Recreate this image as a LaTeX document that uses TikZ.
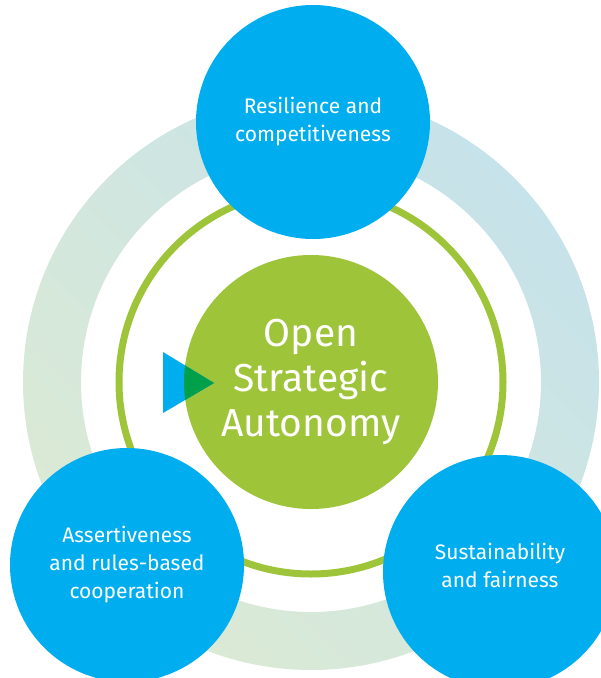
\documentclass[tikz,border=0pt]{standalone}
\usepackage{fontspec}
\setmainfont{Fira Sans}
\definecolor{osablue}{RGB}{0,174,239}
\definecolor{osagreen}{RGB}{158,196,58}
\definecolor{osadark}{RGB}{0,160,75}
\definecolor{ringgreen}{RGB}{219,234,212}
\definecolor{ringblue}{RGB}{198,226,234}
\begin{document}
\begin{tikzpicture}[x=1pt,y=-1pt]
	% Styles for the circles
	\tikzset{pillar/.style={circle, fill=osablue, minimum size=234pt, inner sep=0pt, text=white, align=center, font=\fontsize{21}{28}\selectfont}}
	\tikzset{core/.style={circle, fill=osagreen, minimum size=254pt, inner sep=0pt, text=white, align=center, font=\fontsize{39}{45}\selectfont}}
	\useasboundingbox (0,0) rectangle (601,678);
	\clip (0,0) rectangle (601,678);

	% Draw the rings
	\shade[even odd rule, top color=ringblue, bottom color=ringgreen, shading angle=-45] (311,382) circle (288) (311,382) circle (230);
	\draw[osagreen, line width=7pt] (311,382) circle (192);

	% Draw the pillars
	\node[pillar] (resilience) at (313,122) {Resilience and\\competitiveness};
	\node[pillar] (assertive) at (127,565) {Assertiveness\\and rules-based\\cooperation};
	\node[pillar] (sustain) at (500,572) {};
	\node[text=white, align=center, font=\fontsize{21}{28}\selectfont] (sustaintext) at ([yshift=7pt]sustain.center) {Sustainability\\and fairness};

	% Draw the centre
	\node[core] (osa) at (311,382) {Open\\Strategic\\Autonomy};

	% Draw the arrow
	\fill[osablue] (163,352) -- (163,413) -- (214,383) -- cycle;
	\begin{scope}
		\clip (osa.center) circle (127);
		\fill[osadark] (163,352) -- (163,413) -- (214,383) -- cycle;
	\end{scope}
\end{tikzpicture}
\end{document}
